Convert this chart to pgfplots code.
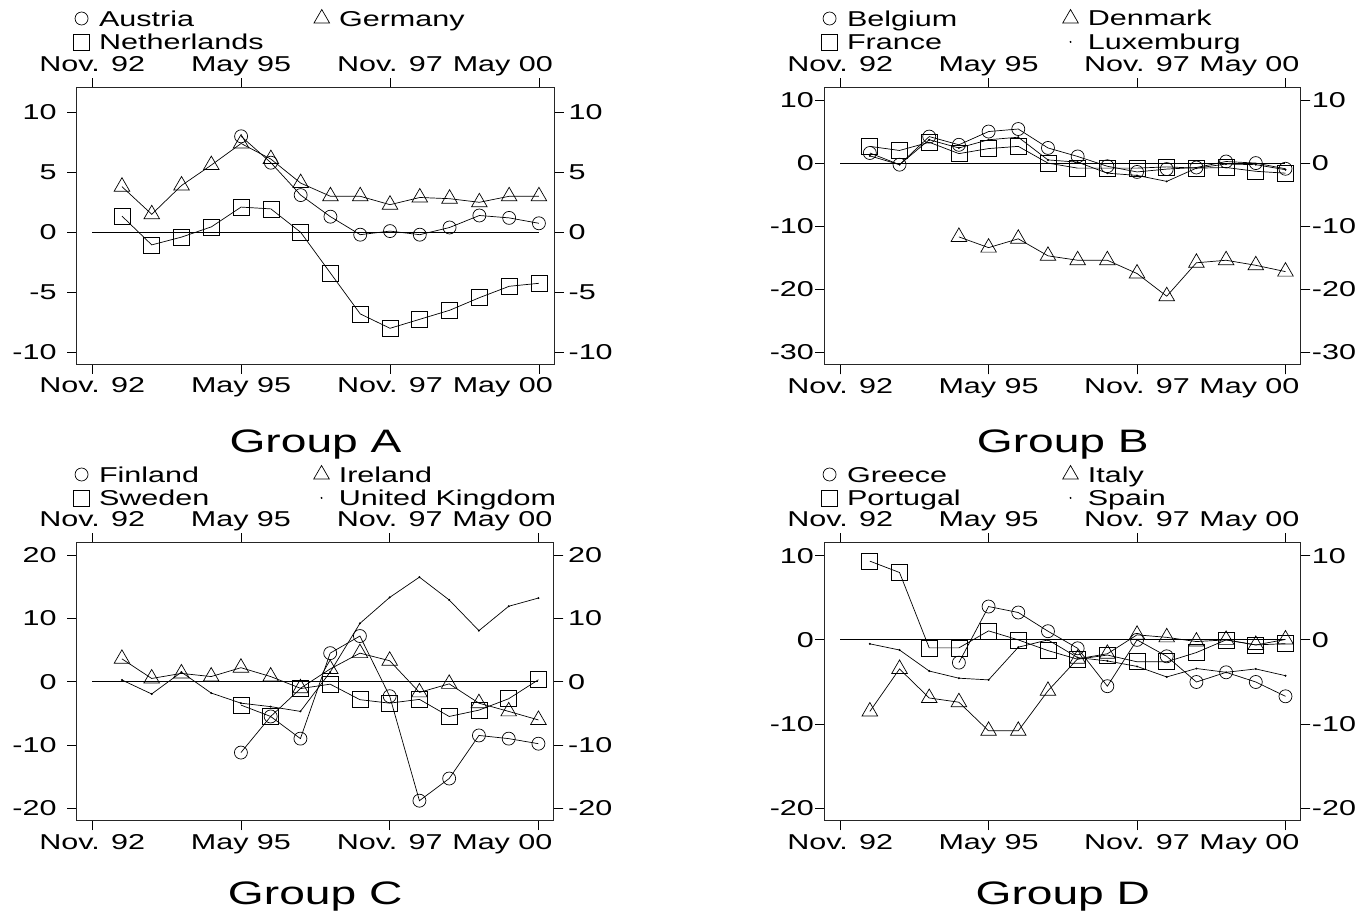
\documentclass[border=0pt]{standalone}
\usepackage{fontspec}
\setmainfont{Liberation Sans}[FakeStretch=1.42]
\usepackage{pgfplots}
\pgfplotsset{compat=1.18}
\newcommand{\tickfont}{\fontsize{21.5}{25}\selectfont}
\newcommand{\titlefont}{\fontsize{32.5}{38}\selectfont}
\pgfplotsset{
  base/.style={scale only axis, xmin=-0.52, xmax=15.52,
    xtick={0,5,10,15}, xticklabels={Nov. 92,May 95,Nov. 97,\makebox[28pt][r]{May 00}},
    tick align=outside, major tick length=9.5pt,
    major tick style={black, line width=0.8pt},
    axis line style={black!85, line width=1pt},
    ticklabel style={font=\tickfont, inner sep=0pt},
    xticklabel style={text height=16pt, text depth=5pt},
    legend style={draw=none, fill=none, inner sep=0pt, font=\tickfont,
      row sep=1.4pt, column sep=9.5pt,
      nodes={inner sep=0pt, text height=17pt, text depth=5pt}},
    legend cell align=left,
    legend image code/.code={\draw[##1] plot coordinates {(0pt,1.5pt)};}},
  lower/.style={base, xticklabel pos=lower, yticklabel pos=lower, xticklabel style={yshift=-3pt}},
  upper/.style={base, xticklabel pos=upper, yticklabel pos=upper, xticklabel style={yshift=1pt}},
  circ/.style={black, line width=0.7pt, mark=o, mark size=6.5pt, mark options={solid}},
  sq/.style={black, line width=0.7pt, mark=square, mark size=8pt, mark options={solid}},
  tri/.style={black, line width=0.7pt, mark=triangle, mark size=9pt, mark options={solid}},
  dotl/.style={black, line width=0.7pt, mark=*, mark size=0.6pt},
  zline/.style={black, line width=0.8pt, forget plot},
}
\begin{document}
\begin{tikzpicture}
\path[use as bounding box] (0,0) rectangle (1372pt,912pt);
% ---------------- Group A
\begin{axis}[lower, at={(76.7pt,547.7pt)}, anchor=south west, width=477.7pt, height=276.6pt,
  ymin=-11, ymax=12.05, ytick={-10,-5,0,5,10}, yticklabels={-10,-5,0,5,10},
  yticklabel style={xshift=-10.5pt}, legend style={at={(-0.007,1.2852)}, anchor=north west}]
\addplot[zline] coordinates {(0,0) (15,0)};
\addplot[circ] coordinates {(5,8.0) (6,5.8) (7,3.1) (8,1.3) (9,-0.2) (10,0.1) (11,-0.2) (12,0.4) (13,1.4) (14,1.2) (15,0.75)};
\addlegendentry{Austria}
\addplot[sq] coordinates {(1,1.35) (2,-1.05) (3,-0.4) (4,0.45) (5,2.1) (6,1.95) (7,0) (8,-3.4) (9,-6.8) (10,-8.0) (11,-7.25) (12,-6.5) (13,-5.45) (14,-4.5) (15,-4.25)};
\addlegendentry{Netherlands}
\end{axis}
\begin{axis}[upper, at={(76.7pt,547.7pt)}, anchor=south west, width=477.7pt, height=276.6pt,
  ymin=-11, ymax=12.05, ytick={-10,-5,0,5,10}, yticklabels={-10,-5,0,5,10},
  yticklabel style={xshift=4.5pt}, legend style={at={(0.4963,1.2852)}, anchor=north west}]
\addplot[tri] coordinates {(1,3.8) (2,1.5) (3,3.9) (4,5.6) (5,7.4) (6,6.1) (7,4.1) (8,3.0) (9,3.0) (10,2.3) (11,2.9) (12,2.8) (13,2.5) (14,3.0) (15,3.0)};
\addlegendentry{Germany}
\end{axis}
\node[font=\titlefont, anchor=base] at (315.5pt,459.7pt) {Group A};
% ---------------- Group B
\begin{axis}[lower, at={(824.7pt,547pt)}, anchor=south west, width=476.2pt, height=277.3pt,
  ymin=-32, ymax=11.95, ytick={-30,-20,-10,0,10}, yticklabels={-30,-20,-10,0,10},
  yticklabel style={xshift=-1.1pt}, legend style={at={(-0.007,1.2845)}, anchor=north west}]
\addplot[zline] coordinates {(0,0) (15,0)};
\addplot[circ] coordinates {(1,1.6) (2,-0.25) (3,4.2) (4,2.9) (5,5.0) (6,5.4) (7,2.4) (8,1.05) (9,-0.5) (10,-1.4) (11,-0.95) (12,-0.7) (13,0.25) (14,0.0) (15,-0.9)};
\addlegendentry{Belgium}
\addplot[sq] coordinates {(1,2.65) (2,2.0) (3,3.3) (4,1.5) (5,2.3) (6,2.65) (7,0) (8,-0.8) (9,-0.8) (10,-0.8) (11,-0.6) (12,-0.8) (13,-0.7) (14,-1.3) (15,-1.6)};
\addlegendentry{France}
\end{axis}
\begin{axis}[upper, at={(824.7pt,547pt)}, anchor=south west, width=476.2pt, height=277.3pt,
  ymin=-32, ymax=11.95, ytick={-30,-20,-10,0,10}, yticklabels={-30,-20,-10,0,10},
  yticklabel style={xshift=1.3pt}, legend style={at={(0.4994,1.2845)}, anchor=north west}]
\addplot[tri] coordinates {(4,-11.7) (5,-13.4) (6,-12.0) (7,-14.7) (8,-15.4) (9,-15.4) (10,-17.5) (11,-21.1) (12,-15.8) (13,-15.4) (14,-16.2) (15,-17.2)};
\addlegendentry{Denmark}
\addplot[dotl] coordinates {(1,1.15) (2,-0.25) (3,3.7) (4,2.4) (5,3.7) (6,4.1) (7,0.5) (8,0.15) (9,-1.6) (10,-1.95) (11,-2.9) (12,-0.8) (13,-0.15) (14,-0.25) (15,-1.05)};
\addlegendentry{Luxemburg}
\end{axis}
\node[font=\titlefont, anchor=base] at (1062.8pt,459.7pt) {Group B};
% ---------------- Group C
\begin{axis}[lower, at={(76.7pt,91.3pt)}, anchor=south west, width=477.2pt, height=278pt,
  ymin=-21.96, ymax=21.94, ytick={-20,-10,0,10,20}, yticklabels={-20,-10,0,10,20},
  yticklabel style={xshift=-10.5pt}, legend style={at={(-0.007,1.2802)}, anchor=north west}]
\addplot[zline] coordinates {(0,0) (15,0)};
\addplot[circ] coordinates {(5,-11.2) (6,-5.5) (7,-9.0) (8,4.5) (9,7.2) (10,-2.3) (11,-18.8) (12,-15.3) (13,-8.5) (14,-9.0) (15,-9.8)};
\addlegendentry{Finland}
\addplot[sq] coordinates {(5,-3.7) (6,-5.5) (7,-1.1) (8,-0.4) (9,-2.85) (10,-3.4) (11,-2.8) (12,-5.5) (13,-4.5) (14,-2.7) (15,0.3)};
\addlegendentry{Sweden}
\end{axis}
\begin{axis}[upper, at={(76.7pt,91.3pt)}, anchor=south west, width=477.2pt, height=278pt,
  ymin=-21.96, ymax=21.94, ytick={-20,-10,0,10,20}, yticklabels={-20,-10,0,10,20},
  yticklabel style={xshift=4.5pt}, legend style={at={(0.4963,1.2802)}, anchor=north west}]
\addplot[tri] coordinates {(1,3.6) (2,0.5) (3,1.3) (4,0.8) (5,2.2) (6,0.8) (7,-1.05) (8,2.0) (9,4.5) (10,3.3) (11,-1.7) (12,-0.35) (13,-3.4) (14,-4.7) (15,-6.05)};
\addlegendentry{Ireland}
\addplot[dotl] coordinates {(1,0.26) (2,-1.95) (3,1.5) (4,-1.8) (5,-3.4) (6,-3.95) (7,-4.7) (8,1.5) (9,9.2) (10,13.3) (11,16.5) (12,12.9) (13,8.05) (14,11.9) (15,13.2)};
\addlegendentry{United Kingdom}
\end{axis}
\node[font=\titlefont, anchor=base] at (315.2pt,8pt) {Group C};
% ---------------- Group D
\begin{axis}[lower, at={(824.7pt,91.3pt)}, anchor=south west, width=476.2pt, height=278pt,
  ymin=-21.47, ymax=11.54, ytick={-20,-10,0,10}, yticklabels={-20,-10,0,10},
  yticklabel style={xshift=-1.1pt}, legend style={at={(-0.007,1.2802)}, anchor=north west}]
\addplot[zline] coordinates {(0,0) (15,0)};
\addplot[circ] coordinates {(4,-2.7) (5,3.96) (6,3.25) (7,1.03) (8,-1.0) (9,-5.5) (10,0) (11,-1.95) (12,-5.0) (13,-3.85) (14,-5.0) (15,-6.7)};
\addlegendentry{Greece}
\addplot[sq] coordinates {(1,9.35) (2,8.0) (3,-0.95) (4,-0.95) (5,1.07) (6,0) (7,-1.27) (8,-2.3) (9,-1.8) (10,-2.6) (11,-2.6) (12,-1.5) (13,0) (14,-0.6) (15,-0.45)};
\addlegendentry{Portugal}
\end{axis}
\begin{axis}[upper, at={(824.7pt,91.3pt)}, anchor=south west, width=476.2pt, height=278pt,
  ymin=-21.47, ymax=11.54, ytick={-20,-10,0,10}, yticklabels={-20,-10,0,10},
  yticklabel style={xshift=1.3pt}, legend style={at={(0.4994,1.2802)}, anchor=north west}]
\addplot[tri] coordinates {(1,-8.5) (2,-3.45) (3,-6.9) (4,-7.4) (5,-10.8) (6,-10.8) (7,-6.05) (8,-2.25) (9,-1.65) (10,0.6) (11,0.3) (12,-0.2) (13,0) (14,-0.6) (15,0.05)};
\addlegendentry{Italy}
\addplot[dotl] coordinates {(1,-0.47) (2,-1.2) (3,-3.7) (4,-4.55) (5,-4.75) (6,-0.87) (7,0) (8,-2.1) (9,-2.5) (10,-3.15) (11,-4.4) (12,-3.4) (13,-3.85) (14,-3.45) (15,-4.25)};
\addlegendentry{Spain}
\end{axis}
\node[font=\titlefont, anchor=base] at (1062.8pt,8pt) {Group D};
\end{tikzpicture}
\end{document}
